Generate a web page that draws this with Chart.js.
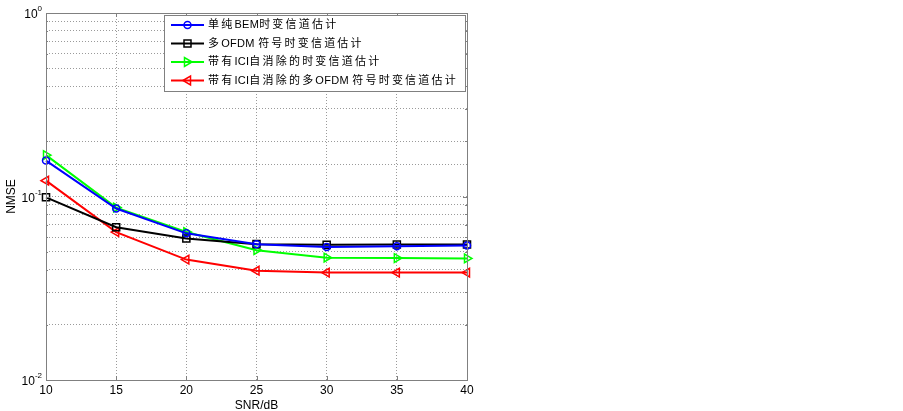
<!DOCTYPE html>
<html>
<head>
<meta charset="utf-8">
<script src="https://cdn.jsdelivr.net/npm/chart.js@4"></script>
<style>
html, body { margin: 0; padding: 0; background: #fff; }
#wrap { width: 903px; height: 411px; }
</style>
</head>
<body>
<div id="wrap"><canvas id="grafico" width="903" height="411"></canvas></div>
<script>
// dados
const snr = [10, 15, 20, 25, 30, 35, 40];
const bemSimples = [0.157, 0.086, 0.063, 0.055, 0.053, 0.0535, 0.054];
const multiOfdm = [0.099, 0.068, 0.059, 0.055, 0.0545, 0.0548, 0.0548];
const iciBem = [0.168, 0.087, 0.064, 0.051, 0.0464, 0.0462, 0.046];
const iciMulti = [0.122, 0.064, 0.0453, 0.0394, 0.0385, 0.0385, 0.0385];
const xTicks = [10, 15, 20, 25, 30, 35, 40];
const yTicks = [1, 0.1, 0.01];
const yTickExp = ['0', '-1', '-2'];
const nomes = ['单纯BEM时变信道估计', '多OFDM 符号时变信道估计', '带有ICI自消除的时变信道估计', '带有ICI自消除的多OFDM 符号时变信道估计'];
const cores = ['#0000ff', '#000000', '#00ff00', '#ff0000'];

const FONT = '"Liberation Sans", Arial, "Noto Sans CJK SC", sans-serif';

function pontos(arr) {
  return snr.map((x, i) => ({ x: x, y: arr[i] }));
}

// desenha marcador (para a legenda)
function marcador(ctx, tipo, x, y, cor) {
  ctx.save();
  ctx.strokeStyle = cor;
  ctx.lineWidth = 1.5;
  ctx.beginPath();
  if (tipo === 'circle') {
    ctx.arc(x, y, 3.5, 0, Math.PI * 2);
  } else if (tipo === 'rect') {
    ctx.rect(x - 3.5, y - 3.5, 7, 7);
  } else if (tipo === 'right') {
    ctx.moveTo(x + 4.5, y);
    ctx.lineTo(x - 3, y - 4.5);
    ctx.lineTo(x - 3, y + 4.5);
    ctx.closePath();
  } else {
    ctx.moveTo(x - 4.5, y);
    ctx.lineTo(x + 3, y - 4.5);
    ctx.lineTo(x + 3, y + 4.5);
    ctx.closePath();
  }
  ctx.stroke();
  ctx.restore();
}

function textoEspacado(ctx, txt, x, y) {
  for (const ch of txt) {
    ctx.fillText(ch, x, y);
    if (/[\u4e00-\u9fff]/.test(ch)) x += 13.2;
    else x += ctx.measureText(ch).width + 0.3;
  }
}

const extras = {
  id: 'extras',
  afterDraw(chart) {
    const ctx = chart.ctx;
    const a = chart.chartArea;
    const xs = chart.scales.x, ys = chart.scales.y;
    ctx.save();
    // moldura
    ctx.strokeStyle = '#808080';
    ctx.lineWidth = 1;
    ctx.strokeRect(a.left + 0.5, a.top + 0.5, a.right - a.left, a.bottom - a.top);
    // marcas internas
    ctx.beginPath();
    xTicks.forEach(v => {
      const px = Math.round(xs.getPixelForValue(v)) + 0.5;
      ctx.moveTo(px, a.bottom); ctx.lineTo(px, a.bottom - 4);
      ctx.moveTo(px, a.top); ctx.lineTo(px, a.top + 4);
    });
    for (let e = -2; e < 0; e++) {
      for (let m = 1; m < 10; m++) {
        const py = Math.round(ys.getPixelForValue(m * Math.pow(10, e))) + 0.5;
        const len = m === 1 ? 4 : 2;
        ctx.moveTo(a.left, py); ctx.lineTo(a.left + len, py);
        ctx.moveTo(a.right, py); ctx.lineTo(a.right - len, py);
      }
    }
    ctx.stroke();

    // rótulos do eixo x
    ctx.fillStyle = '#000';
    ctx.font = '12px ' + FONT;
    ctx.textAlign = 'center';
    ctx.textBaseline = 'middle';
    xTicks.forEach(v => ctx.fillText(String(v), xs.getPixelForValue(v), a.bottom + 11));
    ctx.fillText('SNR/dB', (a.left + a.right) / 2, a.bottom + 26);

    // rótulos do eixo y (10 com expoente)
    yTicks.forEach((v, i) => {
      const py = ys.getPixelForValue(v);
      ctx.font = '8px ' + FONT;
      const wExp = ctx.measureText(yTickExp[i]).width;
      ctx.font = '12px ' + FONT;
      ctx.textAlign = 'right';
      ctx.textBaseline = 'middle';
      ctx.fillText('10', a.left - 4 - wExp, py + 2);
      ctx.font = '8px ' + FONT;
      ctx.textAlign = 'left';
      ctx.fillText(yTickExp[i], a.left - 4 - wExp, py - 4);
    });

    // título do eixo y
    ctx.save();
    ctx.translate(12, (a.top + a.bottom) / 2);
    ctx.rotate(-Math.PI / 2);
    ctx.font = '12px ' + FONT;
    ctx.textAlign = 'center';
    ctx.textBaseline = 'middle';
    ctx.fillText('NMSE', 0, 0);
    ctx.restore();

    // legenda
    const lx = 164, ly = 15, lw = 301, lh = 76;
    ctx.fillStyle = '#fff';
    ctx.fillRect(lx, ly, lw, lh);
    ctx.strokeStyle = '#808080';
    ctx.strokeRect(lx + 0.5, ly + 0.5, lw, lh);
    const tipos = ['circle', 'rect', 'right', 'left'];
    const linhasY = [25, 43.5, 62, 80.5];
    nomes.forEach((n, i) => {
      const y = linhasY[i];
      ctx.strokeStyle = cores[i];
      ctx.lineWidth = 2;
      ctx.beginPath();
      ctx.moveTo(171, y); ctx.lineTo(204, y);
      ctx.stroke();
      marcador(ctx, tipos[i], 187.5, y, cores[i]);
      ctx.fillStyle = '#000';
      ctx.font = '11px ' + FONT;
      ctx.textAlign = 'left';
      ctx.textBaseline = 'middle';
      textoEspacado(ctx, n, 208, y);
    });
    ctx.restore();
  }
};

const ctx = document.getElementById('grafico').getContext('2d');
const grafico = new Chart(ctx, {
  type: 'line',
  data: {
    datasets: [
      { label: nomes[0], data: pontos(bemSimples), borderColor: cores[0], pointStyle: 'circle', pointRadius: 3.5 },
      { label: nomes[1], data: pontos(multiOfdm), borderColor: cores[1], pointStyle: 'rect', pointRadius: 5 },
      { label: nomes[2], data: pontos(iciBem), borderColor: cores[2], pointStyle: 'triangle', pointRotation: 90, pointRadius: 5 },
      { label: nomes[3], data: pontos(iciMulti), borderColor: cores[3], pointStyle: 'triangle', pointRotation: -90, pointRadius: 5 }
    ].map(d => Object.assign(d, {
      borderWidth: 2,
      pointBorderColor: d.borderColor,
      pointBackgroundColor: 'rgba(0,0,0,0)',
      pointBorderWidth: 1.5,
      tension: 0,
      fill: false,
      clip: false
    }))
  },
  options: {
    responsive: false,
    animation: false,
    layout: { padding: { left: 46, top: 13, right: 436, bottom: 31 } },
    plugins: { legend: { display: false }, tooltip: { enabled: false } },
    scales: {
      x: {
        type: 'linear', min: 10, max: 40,
        ticks: { display: false, stepSize: 5 },
        grid: { color: '#9a9a9a', drawTicks: false },
        border: { display: false, dash: [1, 2] }
      },
      y: {
        type: 'logarithmic', min: 0.01, max: 1,
        ticks: { display: false },
        grid: { color: '#9a9a9a', drawTicks: false },
        border: { display: false, dash: [1, 2] }
      }
    }
  },
  plugins: [extras]
});
</script>
</body>
</html>
